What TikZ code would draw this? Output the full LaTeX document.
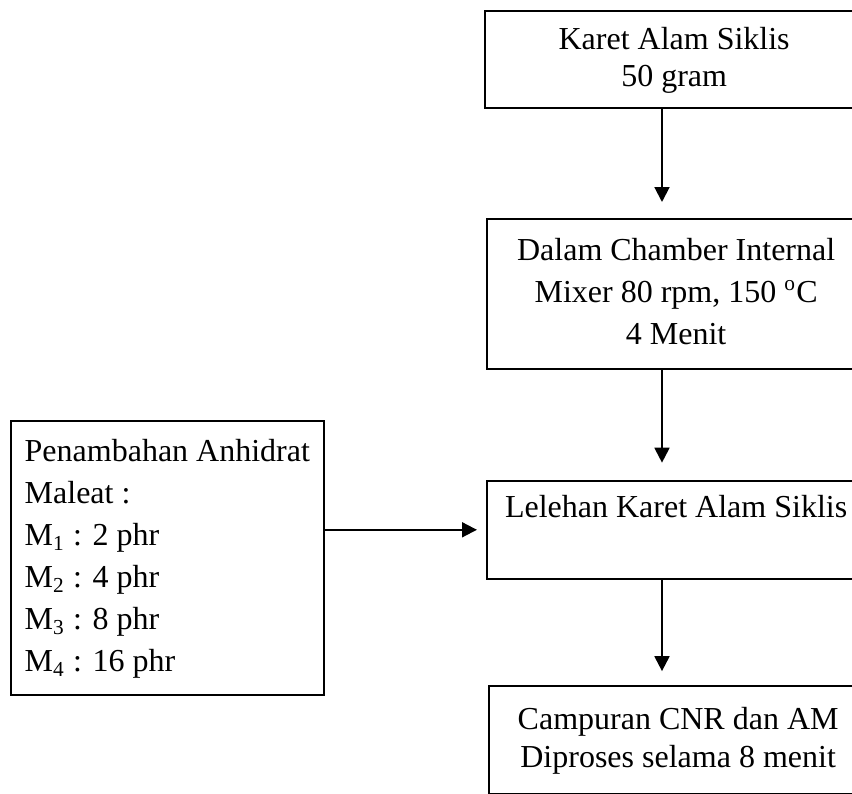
\documentclass[tikz,border=0pt]{standalone}
\usepackage{fontspec}
\setmainfont{Liberation Serif}
\usepackage{tikz}
\usetikzlibrary{arrows.meta}
\newcommand{\tstrut}{\rule{0pt}{11pt}}
\newcommand{\bstrut}{\rule[-4.7pt]{0pt}{4.7pt}}
\tikzset{
  proses/.style={draw, line width=0.6pt, anchor=north west, align=center,
    minimum width=142pt, inner xsep=4pt, inner ysep=0pt,
    font=\fontsize{12}{15.75}\selectfont},
  bahan/.style={proses, align=left, minimum width=117.4pt, inner xsep=2pt},
  alur/.style={line width=0.75pt, -{Triangle[length=5.6pt,width=5.6pt]}}
}

\begin{document}
\begin{tikzpicture}[x=0.375pt,y=-0.375pt]
\clip (0,0) rectangle (852,794);
\node[proses, minimum height=36.4pt, font=\fontsize{12}{13.9}\selectfont] (karet) at (484,10) {\tstrut Karet Alam Siklis\\50 gram\bstrut};
\node[proses, minimum height=56.25pt] (chamber) at (486,218) {\tstrut Dalam Chamber Internal\\Mixer 80 rpm, 150 \textsuperscript{o}C\\4 Menit\bstrut};
\node[proses, minimum height=36.75pt] (lele) at (486,480) {\tstrut Lelehan Karet Alam Siklis\\\bstrut};
\node[proses, minimum height=40.5pt, font=\fontsize{12}{14.25}\selectfont] (campur) at (488,685) {\tstrut Campuran CNR dan AM\\Diproses selama 8 menit\bstrut};
\node[bahan, minimum height=102.75pt] (anh) at (10,420) {\tstrut Penambahan Anhidrat\\Maleat :\\M\textsubscript{1} : 2 phr\\M\textsubscript{2} : 4 phr\\M\textsubscript{3} : 8 phr\\M\textsubscript{4} : 16 phr\bstrut};
\coordinate (spine) at (662,0);

\draw[alur, shorten >=6pt] (karet.south -| spine) -- (chamber.north -| spine);
\draw[alur, shorten >=6.5pt] (chamber.south -| spine) -- (lele.north -| spine);
\draw[alur, shorten >=5.2pt] (lele.south -| spine) -- (campur.north -| spine);
\draw[alur, shorten >=3.4pt] (anh.east |- lele.west) -- (lele.west);
\end{tikzpicture}
\end{document}
